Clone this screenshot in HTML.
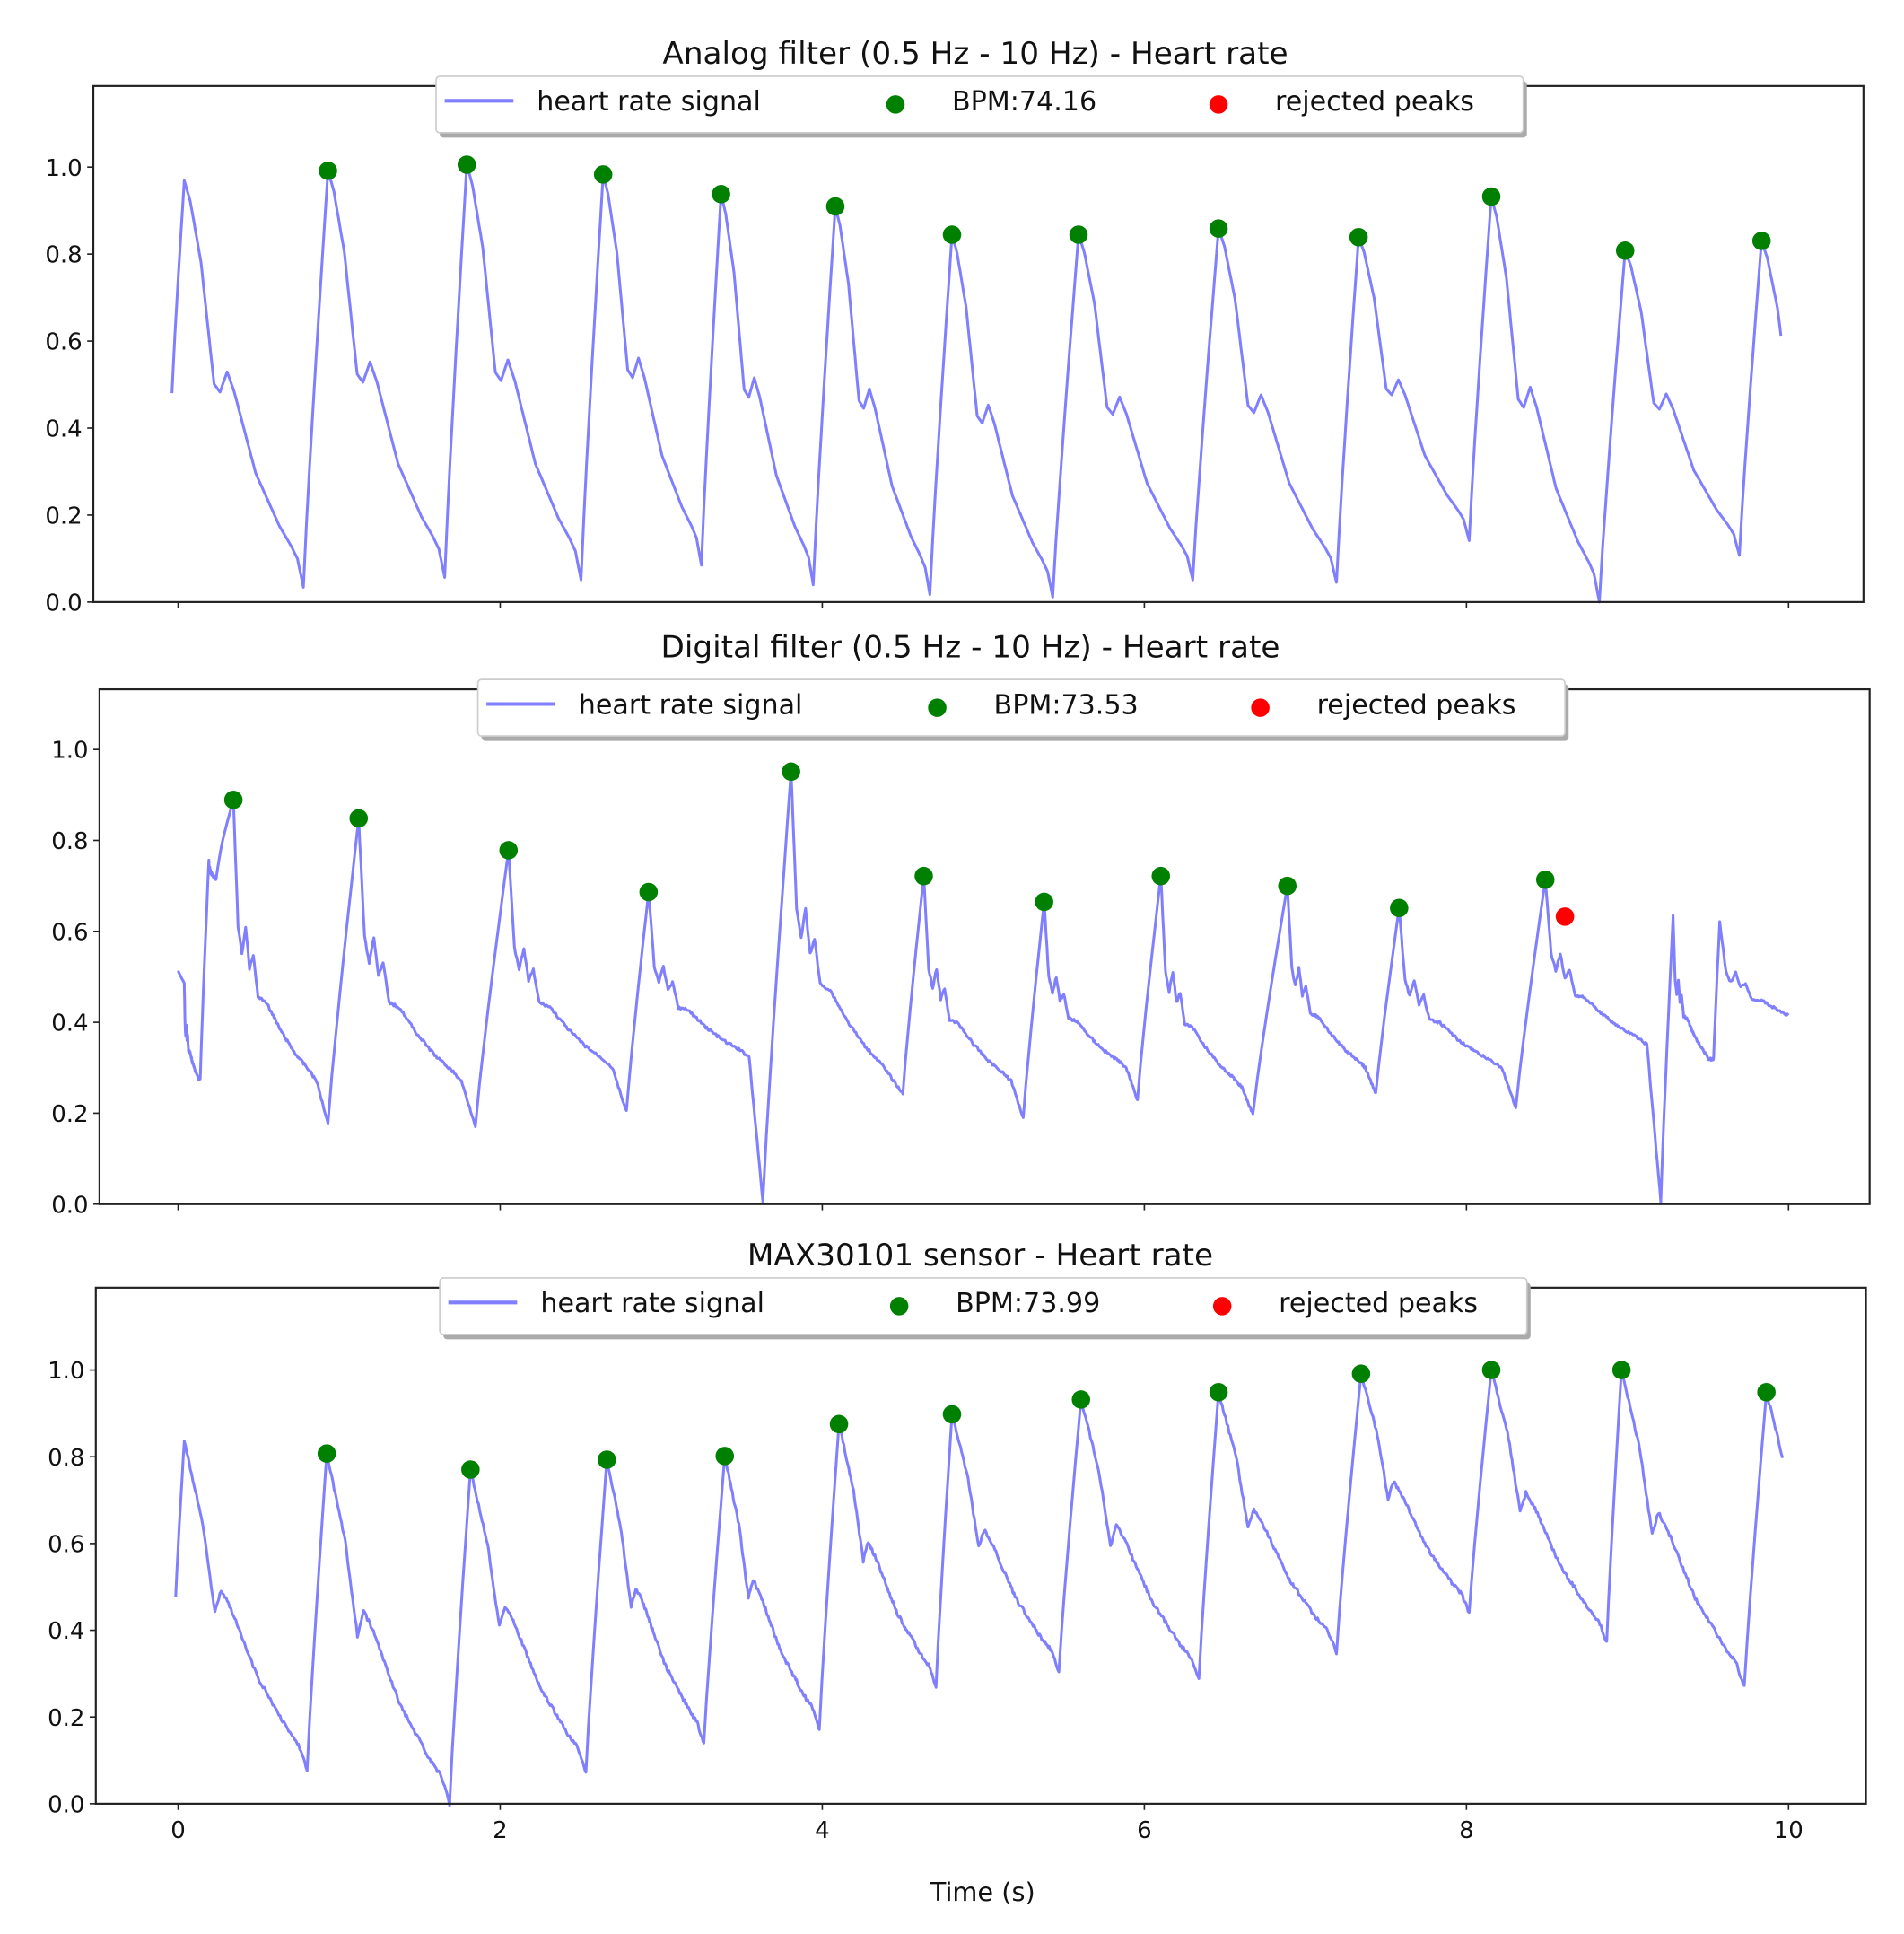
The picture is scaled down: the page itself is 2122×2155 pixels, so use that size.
<!DOCTYPE html>
<html><head><meta charset="utf-8">
<style>
html,body{margin:0;padding:0;background:#fff;}
svg{display:block;}
text{font-family:"DejaVu Sans","Liberation Sans",sans-serif;fill:#111;}
</style></head>
<body>
<svg id="s" width="2122" height="2155" viewBox="0 0 1550 1574" preserveAspectRatio="none" xmlns="http://www.w3.org/2000/svg">
<rect width="1550" height="1574" fill="#fff"/>
<g id="g"></g>
</svg>
<script>
var NS="http://www.w3.org/2000/svg";
var G=document.getElementById("g");
function el(t,a,txt){var e=document.createElementNS(NS,t);for(var k in a)e.setAttribute(k,a[k]);if(txt!==undefined)e.textContent=txt;G.appendChild(e);return e;}
var seed=7;function rnd(){seed=(seed*9301+49297)%233280;return seed/233280-0.5;}
function interp(K,u){for(var i=1;i<K.length;i++){if(u<=K[i][0]){var a=K[i-1],b=K[i];return a[1]+(b[1]-a[1])*(u-a[0])/(b[0]-a[0]);}}return K[K.length-1][1];}
var F1=[[0,0],[0.05,0.05],[0.14,0.2],[0.25,0.5],[0.3,0.52],[0.36,0.47],[0.42,0.52],[0.6,0.72],[0.8,0.85],[0.9,0.9],[0.95,0.93],[1,1]];
var F3=[[0,0],[0.06,0.1],[0.15,0.25],[0.25,0.52],[0.3,0.45],[0.37,0.5],[0.6,0.72],[0.85,0.88],[0.93,0.92],[1,1]];
// panel 2: reaches base (1.0) at u=0.9, then sharp dip to trough
var F2=[[0,0],[0.05,0.45],[0.09,0.55],[0.13,0.45],[0.17,0.6],[0.21,0.55],[0.26,0.7],[0.35,0.72],[0.5,0.82],[0.65,0.9],[0.8,0.96],[0.88,1]];
function build(start,nodes,F,noise,dip){
  var pts=[start],prev=start;
  for(var i=0;i<nodes.length;i++){
    var n=nodes[i];
    if(n[2]==='p'){
      var steps=8;for(var s=1;s<=steps;s++){var f=s/steps;pts.push([prev[0]+(n[0]-prev[0])*f,prev[1]+(n[1]-prev[1])*Math.pow(f,0.9)]);}
    } else {
      var dx=n[0]-prev[0],uMax=1;if(n[3])uMax=(n[3]-prev[0])/dx;
      var base=(n[4]!==undefined)?n[4]:null;
      for(var u=0.01;u<=uMax+1e-9;u+=0.01){
        var y;
        if(base!==null){
          if(u<=0.88)y=prev[1]+interp(F,u)*(base-prev[1]);
          else y=base+(u-0.88)/0.12*(n[1]-base);
        } else y=prev[1]+interp(F,u)*(n[1]-prev[1]);
        pts.push([prev[0]+u*dx,y+noise*rnd()]);
      }
    }
    prev=n;
  }
  var d="M"+pts.map(function(p){return p[0].toFixed(1)+","+p[1].toFixed(1);}).join("L");
  el("path",{d:d,fill:"none",stroke:"#7f7fff","stroke-width":2.2,"stroke-linejoin":"round"});
}
function axes(x0,x1,y0,y1,zeroY,unit,labelsX){
  for(var v=0;v<=1.001;v+=0.2){var y=zeroY-v*unit;el("line",{x1:x0-5,x2:x0,y1:y,y2:y,stroke:"#222","stroke-width":1.2});el("text",{x:x0-9,y:y+7,"text-anchor":"end","font-size":19},v.toFixed(1));}
  for(var t=0;t<=10;t+=2){var x=145+t*131.1;el("line",{x1:x,x2:x,y1:y1,y2:y1+5,stroke:"#222","stroke-width":1.2});if(labelsX)el("text",{x:x,y:y1+28,"text-anchor":"middle","font-size":19},String(t));}
  el("rect",{x:x0,y:y0,width:x1-x0,height:y1-y0,fill:"none",stroke:"#222","stroke-width":1.6});
}
function legend(x,y,bpm){
  el("rect",{x:x+3,y:y+4,width:885,height:46,rx:3,fill:"#aaa"});
  el("rect",{x:x,y:y,width:885,height:46,rx:3,fill:"#fff",stroke:"#ccc","stroke-width":1.2});
  el("line",{x1:x+7,x2:x+63,y1:y+20,y2:y+20,stroke:"#7f7fff","stroke-width":3});
  el("text",{x:x+82,y:y+28,"font-size":22},"heart rate signal");
  el("circle",{cx:x+374,cy:y+23,r:7.5,fill:"#008000"});
  el("text",{x:x+420,y:y+28,"font-size":22},"BPM:"+bpm);
  el("circle",{cx:x+637,cy:y+23,r:7.5,fill:"#ff0000"});
  el("text",{x:x+683,y:y+28,"font-size":22},"rejected peaks");
}
function dots(list,c){list.forEach(function(p){el("circle",{cx:p[0],cy:p[1],r:7.5,fill:c||"#008000"});});}

// Panel 1
el("text",{x:794,y:52,"text-anchor":"middle","font-size":25},"Analog filter (0.5 Hz - 10 Hz) - Heart rate");
var P1=[[267,139],[380,134],[491,142],[587,158],[680,168],[775,191],[878,191],[992,186],[1106,193],[1214,160],[1323,204],[1434,196]];
var T1=[[247,478],[362,470],[473,472],[571,460],[662,476],[757,484],[857,486],[971,472],[1088,474],[1196,440],[1302,490],[1416,452]];
var n1=[[150,147,'p']];for(var i=0;i<P1.length;i++){n1.push([T1[i][0],T1[i][1],'t']);n1.push([P1[i][0],P1[i][1],'p']);}
n1.push([1527,470,'t',1450]);
build([140,320],n1,F1,0);
axes(76,1517,70,490,490,354,false);
dots(P1);
legend(355,62,"74.16");

// Panel 2
el("text",{x:790,y:535,"text-anchor":"middle","font-size":25},"Digital filter (0.5 Hz - 10 Hz) - Heart rate");
var P2=[[190,651],[292,666],[414,692],[528,726],[644,628],[752,713],[850,734],[945,713],[1048,721],[1139,739],[1258,716]];
var T2=[[267,914,880],[387,916,880],[510,905,869],[621,978,860],[735,890,875],[833,910,880],[926,895,869],[1020,907,885],[1120,890,869],[1234,902,869]];
var n2=[[150,800,'p'],[163,878,'t'],[170,700,'p'],[176,715,'t'],[180,690,'p']];
for(i=0;i<P2.length;i++){if(i>0)n2.push([T2[i-1][0],T2[i-1][1],'t',0,T2[i-1][2]]);n2.push([P2[i][0],P2[i][1],'p']);}
n2.push([T2[9][0],T2[9][1],'t',0,T2[9][2]]);
// fix: last peak 1258 preceded by trough 1234
n2=n2.slice(0,n2.length-1);
n2.push([1352,978,'t',0,850]);n2.push([1362,745,'p']);n2.push([1395,862,'t']);n2.push([1400,750,'p']);n2.push([1500,840,'t',1456]);
build([145,790],n2,F2,2.2);
axes(81,1522,561,980,980,370,false);
dots(P2);dots([[1274,746]],"#ff0000");
legend(389,553,"73.53");

// Panel 3
el("text",{x:798,y:1030,"text-anchor":"middle","font-size":25},"MAX30101 sensor - Heart rate");
var P3=[[266,1183],[383,1196],[494,1188],[590,1185],[683,1159],[775,1151],[880,1139],[992,1133],[1108,1118],[1214,1115],[1320,1115],[1438,1133]];
var T3=[[250,1441],[366,1468],[477,1442],[573,1420],[667,1408],[762,1373],[862,1360],[976,1367],[1088,1345],[1196,1313],[1308,1337],[1420,1373]];
var n3=[[150,1173,'p']];for(i=0;i<P3.length;i++){n3.push([T3[i][0],T3[i][1],'t']);n3.push([P3[i][0],P3[i][1],'p']);}
n3.push([1540,1380,'t',1452]);
build([143,1300],n3,F3,3);
axes(78,1519,1048,1468,1468,353,true);
dots(P3);
legend(358,1040,"73.99");
el("text",{x:800,y:1547,"text-anchor":"middle","font-size":21},"Time (s)");
</script>
</body></html>
